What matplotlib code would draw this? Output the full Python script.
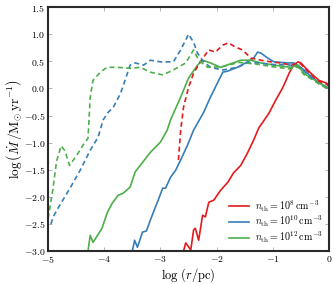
import numpy as np
import matplotlib
matplotlib.use('Agg')
import matplotlib.pyplot as plt
from matplotlib.ticker import FuncFormatter, MultipleLocator

plt.rcParams['mathtext.fontset'] = 'cm'
plt.rcParams['font.family'] = 'serif'
plt.rcParams['font.serif'] = ['cmr10', 'DejaVu Serif']
plt.rcParams['axes.unicode_minus'] = False

# n_th = 1e8 (rojo)
r8_sol = [-2.59, -2.55, -2.46, -2.41, -2.38, -2.32, -2.25, -2.20, -2.14, -2.05, -1.93, -1.80,
          -1.70, -1.57, -1.45, -1.34, -1.25, -1.07, -0.95, -0.82, -0.71, -0.63, -0.55, -0.50,
          -0.41, -0.29, -0.18, -0.05, 0.0]
m8_sol = [-3.0, -2.85, -2.98, -2.61, -2.58, -2.80, -2.34, -2.37, -2.10, -2.06, -1.88, -1.73,
          -1.56, -1.42, -1.19, -0.95, -0.73, -0.46, -0.22, 0.02, 0.28, 0.43, 0.49, 0.47,
          0.37, 0.25, 0.15, 0.10, 0.06]
r8_das = [-2.68, -2.64, -2.59, -2.50, -2.41, -2.29, -2.14, -2.02, -1.89, -1.79, -1.66, -1.54,
          -1.39, -1.21, -1.04, -0.86, -0.68, -0.55, -0.50, -0.41, -0.29, -0.18, -0.05, 0.0]
m8_das = [-1.32, -0.77, -0.35, 0.02, 0.28, 0.49, 0.71, 0.67, 0.80, 0.84, 0.76, 0.71,
          0.56, 0.52, 0.49, 0.47, 0.43, 0.47, 0.45, 0.35, 0.23, 0.13, 0.08, 0.04]

# n_th = 1e10 (azul)
r10_sol = [-3.50, -3.46, -3.41, -3.32, -3.25, -3.18, -3.09, -3.04, -2.96, -2.91, -2.82, -2.73,
           -2.64, -2.52, -2.41, -2.23, -2.11, -1.89, -1.80, -1.63, -1.45, -1.34, -1.27, -1.21,
           -1.09, -0.98, -0.73, -0.63, -0.50, -0.38, -0.20, 0.0]
m10_sol = [-3.0, -2.80, -2.93, -2.65, -2.63, -2.43, -2.19, -2.06, -1.84, -1.84, -1.64, -1.51,
           -1.32, -1.05, -0.77, -0.44, -0.16, 0.30, 0.32, 0.39, 0.49, 0.56, 0.67, 0.65,
           0.56, 0.49, 0.47, 0.47, 0.39, 0.28, 0.12, 0.0]
r10_das = [-4.95, -4.91, -4.79, -4.61, -4.43, -4.25, -4.11, -4.02, -3.93, -3.84, -3.71, -3.63,
           -3.54, -3.45, -3.30, -3.18, -3.0, -2.77, -2.64, -2.50, -2.41, -2.34, -2.23, -2.11,
           -1.89, -1.63, -1.45, -1.27, -1.09, -0.98, -0.73, -0.50, -0.38, -0.20, 0.0]
m10_das = [-2.50, -2.37, -2.15, -1.84, -1.51, -1.14, -0.90, -0.58, -0.44, -0.35, -0.09, 0.15,
           0.43, 0.47, 0.43, 0.52, 0.49, 0.49, 0.71, 1.0, 0.85, 0.65, 0.49, 0.39,
           0.34, 0.39, 0.47, 0.47, 0.45, 0.44, 0.44, 0.37, 0.26, 0.10, -0.02]

# n_th = 1e12 (verde)
r12_sol = [-4.29, -4.25, -4.20, -4.04, -3.95, -3.86, -3.75, -3.66, -3.54, -3.45, -3.36, -3.18,
           -3.0, -2.88, -2.82, -2.64, -2.50, -2.34, -2.25, -2.11, -1.93, -1.57, -1.39, -1.21,
           -0.98, -0.68, -0.55, -0.45, -0.20, 0.0]
m12_sol = [-3.0, -2.71, -2.84, -2.58, -2.30, -2.12, -1.97, -1.93, -1.82, -1.54, -1.42, -1.18,
           -0.99, -0.77, -0.58, -0.16, 0.19, 0.43, 0.52, 0.47, 0.39, 0.52, 0.52, 0.47,
           0.43, 0.39, 0.43, 0.28, 0.12, -0.01]
r12_das = [-5.0, -4.92, -4.85, -4.77, -4.70, -4.62, -4.50, -4.38, -4.29, -4.25, -4.20, -4.07,
           -3.95, -3.77, -3.54, -3.36, -3.18, -2.96, -2.77, -2.55, -2.41, -2.32, -2.16, -1.9,
           -1.6, -1.3, -1.0, -0.7, -0.55, -0.45, -0.2, 0.0]
m12_das = [-2.40, -1.90, -1.35, -1.06, -1.15, -1.42, -1.25, -1.05, -0.92, -0.16, 0.15, 0.30,
           0.39, 0.39, 0.37, 0.39, 0.30, 0.25, 0.34, 0.47, 0.71, 0.52, 0.39, 0.40,
           0.48, 0.45, 0.40, 0.36, 0.40, 0.26, 0.10, -0.02]

rojo = '#e41a1c'
azul = '#377eb8'
verde = '#4daf4a'

fig = plt.figure(figsize=(3.34, 2.84), dpi=100)
ax = fig.add_axes([0.144, 0.116, 0.841, 0.859])

lw = 1.2
ax.plot(r8_sol, m8_sol, color=rojo, lw=lw, label=r'$n_{\rm th}=10^{8}\,{\rm cm^{-3}}$')
ax.plot(r10_sol, m10_sol, color=azul, lw=lw, label=r'$n_{\rm th}=10^{10}\,{\rm cm^{-3}}$')
ax.plot(r12_sol, m12_sol, color=verde, lw=lw, label=r'$n_{\rm th}=10^{12}\,{\rm cm^{-3}}$')
ax.plot(r8_das, m8_das, color=rojo, lw=lw, ls='--', dashes=(3, 2))
ax.plot(r10_das, m10_das, color=azul, lw=lw, ls='--', dashes=(3, 2))
ax.plot(r12_das, m12_das, color=verde, lw=lw, ls='--', dashes=(3, 2))

ax.set_xlim(-5, 0)
ax.set_ylim(-3, 1.5)
ax.xaxis.set_major_locator(MultipleLocator(1))
ax.yaxis.set_major_locator(MultipleLocator(0.5))
ax.xaxis.set_major_formatter(FuncFormatter(lambda v, p: r'$%d$' % round(v)))
ax.yaxis.set_major_formatter(FuncFormatter(lambda v, p: r'$%.1f$' % v))
ax.tick_params(direction='in', top=True, right=True, labelsize=7, length=3,
               width=0.6, color='#aaaaaa', pad=2)
for s in ax.spines.values():
    s.set_linewidth(1.5)
    s.set_color('#2a2a2a')

ax.set_xlabel(r'$\log\,(r/{\rm pc})$', fontsize=9, labelpad=1)
ax.set_ylabel(r'$\log\left(\dot{M}\,/{\rm M_{\odot}\,yr^{-1}}\right)$', fontsize=9.5, labelpad=0)

ax.legend(loc='lower right', frameon=False, fontsize=7.2, handlelength=2.0,
          handletextpad=0.6, borderaxespad=0.2, labelspacing=0.05)

fig.savefig('out.png', dpi=100)
